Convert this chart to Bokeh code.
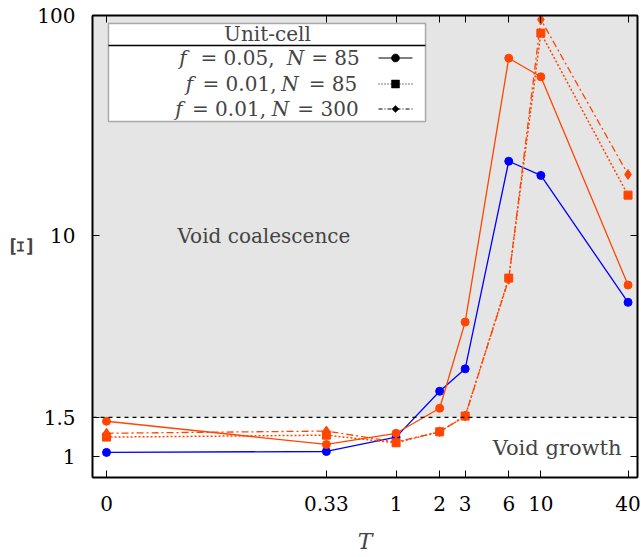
import math
from bokeh.plotting import figure
from bokeh.models import (FixedTicker, LogAxis, Span, BoxAnnotation, Label,
                          Arrow, PolyAnnotation, CustomJSTickFormatter)
from bokeh.embed import file_html
from bokeh.resources import INLINE

# ---------------- data ----------------
T_labels = ["0", "0.33", "1", "2", "3", "6", "10", "40"]
T_values = [0.0, 0.33, 1.0, 2.0, 3.0, 6.0, 10.0, 40.0]
T_zero_on_log_axis = 0.01  # position where T = 0 is drawn on the log axis

xi_blue_circle = [1.04, 1.05, 1.22, 1.97, 2.49, 21.8, 18.8, 4.99]
xi_orange_circle = [1.44, 1.13, 1.27, 1.65, 4.06, 64.0, 52.7, 5.98]
xi_orange_square = [1.22, 1.245, 1.15, 1.29, 1.52, 6.43, 83.2, 15.3]
xi_orange_diamond = [1.27, 1.30, 1.16, 1.29, 1.52, 6.35, 95.9, 19.0]

y_tick_values = [1.0, 1.5, 10.0, 100.0]
y_tick_labels = ["1", "1.5", "10", "100"]
xi_threshold = 1.5

x_title = "T"
y_title = "Ξ"

legend_title = "Unit-cell"
legend_rows = [
    ("f", "= 0.05,", "N", "= 85"),
    ("f", "= 0.01,", "N", "= 85"),
    ("f", "= 0.01,", "N", "= 300"),
]

# --------------- styling ---------------
FONT = "DejaVu Serif"
BLUE = "#0000ff"
ORANGE = "#ff4500"

xs = [T_zero_on_log_axis if t == 0 else t for t in T_values]

p = figure(width=641, height=557, x_axis_type="log", y_axis_type="log",
           x_range=(0.0080, 46.5), y_range=(0.8, 100),
           output_backend="svg", toolbar_location=None,
           min_border_left=92, min_border_right=4, min_border_top=15,
           min_border_bottom=80,
           background_fill_color="#e5e5e5", border_fill_color="white")
p.xgrid.visible = False
p.ygrid.visible = False
p.outline_line_color = "black"
p.outline_line_width = 1

map_code = """
for (let i = 0; i < pos.length; i++) {
  if (Math.abs(pos[i] - tick) <= 1e-9 * Math.max(1, Math.abs(tick))) return lab[i];
}
return "";
"""
x_fmt = CustomJSTickFormatter(args=dict(pos=xs, lab=T_labels), code=map_code)
y_fmt = CustomJSTickFormatter(args=dict(pos=y_tick_values, lab=y_tick_labels), code=map_code)


def style_axis(ax, show_labels=True):
    ax.axis_line_width = 2
    ax.axis_line_color = "black"
    ax.major_tick_in = 7
    ax.major_tick_out = 0
    ax.major_tick_line_width = 1
    ax.major_tick_line_color = "black"
    ax.minor_tick_line_color = None
    ax.major_label_text_font = FONT
    ax.major_label_text_color = "black"
    if show_labels:
        ax.major_label_text_font_size = "20px"
    else:
        ax.major_label_text_font_size = "0px"
        ax.major_label_standoff = 0


xa = p.xaxis[0]
xa.ticker = FixedTicker(ticks=xs)
xa.formatter = x_fmt
style_axis(xa)
xa.major_label_standoff = 18
xa.axis_label = x_title
xa.axis_label_text_font = FONT
xa.axis_label_text_font_style = "italic"
xa.axis_label_text_font_size = "22px"
xa.axis_label_standoff = 15

ya = p.yaxis[0]
ya.ticker = FixedTicker(ticks=y_tick_values)
ya.formatter = y_fmt
style_axis(ya)
ya.major_label_standoff = 17
ya.axis_label = y_title
ya.axis_label_text_font = FONT
ya.axis_label_text_font_style = "normal"
ya.axis_label_text_font_size = "28px"
ya.axis_label_standoff = -5

top = LogAxis(ticker=FixedTicker(ticks=xs), formatter=x_fmt)
style_axis(top, show_labels=False)
p.add_layout(top, "above")
right = LogAxis(ticker=FixedTicker(ticks=y_tick_values), formatter=y_fmt)
style_axis(right, show_labels=False)
p.add_layout(right, "right")

# background regions
p.add_layout(BoxAnnotation(top=xi_threshold, fill_color="white", fill_alpha=1.0,
                           line_alpha=0, level="underlay"))
p.add_layout(Span(location=xi_threshold, dimension="width", line_color="black",
                  line_dash="4 4", line_width=1.2))

# data series
p.line(xs, xi_blue_circle, line_color=BLUE, line_width=1.3)
p.scatter(xs, xi_blue_circle, marker="circle", size=8, color=BLUE)
p.line(xs, xi_orange_circle, line_color=ORANGE, line_width=1.3)
p.scatter(xs, xi_orange_circle, marker="circle", size=8, color=ORANGE)
p.line(xs, xi_orange_square, line_color=ORANGE, line_width=1.5, line_dash="2 2")
p.scatter(xs, xi_orange_square, marker="square", size=8, color=ORANGE)
p.line(xs, xi_orange_diamond, line_color=ORANGE, line_width=1.3, line_dash="7 3 2 3")
p.scatter(xs, xi_orange_diamond, marker="diamond", size=10, color=ORANGE)

# region labels
p.add_layout(Label(x=85, y=242, x_units="screen", y_units="screen",
                   text="Void coalescence", text_font=FONT, text_font_size="20px",
                   text_baseline="middle", text_align="left"))
p.add_layout(Label(x=529, y=30, x_units="screen", y_units="screen",
                   text="Void growth", text_font=FONT, text_font_size="21px",
                   text_baseline="middle", text_align="right"))

# ---------------- legend ----------------
p.add_layout(BoxAnnotation(left=16, right=333, top=454, bottom=356,
                           left_units="screen", right_units="screen",
                           top_units="screen", bottom_units="screen",
                           fill_color="white", fill_alpha=1.0,
                           line_color="black", line_width=1.5))
p.add_layout(Arrow(x_start=16, y_start=432, x_end=333, y_end=432,
                   start_units="screen", end_units="screen", end=None,
                   line_color="black", line_width=1.5))
p.add_layout(Label(x=175, y=443.5, x_units="screen", y_units="screen",
                   text=legend_title, text_font=FONT, text_font_size="20px",
                   text_align="center", text_baseline="middle"))

row_y = [419.5, 393.5, 368.5]
piece_cx = [
    (90.5, 145, 203, 243),
    (97, 147, 197.5, 240.5),
    (86.5, 136.5, 188, 235.5),
]
row_dash = ["solid", "1 2", "4 2 1 2"]
for (txts, px, ry, dash) in zip(legend_rows, piece_cx, row_y, row_dash):
    for k, (t, x0) in enumerate(zip(txts, px)):
        p.add_layout(Label(x=x0, y=ry, x_units="screen", y_units="screen",
                           text=t, text_font=FONT, text_font_size="20px",
                           text_font_style="italic" if k in (0, 2) else "normal",
                           text_baseline="middle", text_align="center"))
    p.add_layout(Arrow(x_start=286, y_start=ry, x_end=320, y_end=ry,
                       start_units="screen", end_units="screen", end=None,
                       line_color="black", line_width=1, line_dash=dash))

mx = 303
r = 4
circ_xs = [mx + r * math.cos(2 * math.pi * i / 20) for i in range(20)]
circ_ys = [row_y[0] + r * math.sin(2 * math.pi * i / 20) for i in range(20)]
marker_polys = [
    (circ_xs, circ_ys),
    ([mx - 4, mx + 4, mx + 4, mx - 4], [row_y[1] - 4, row_y[1] - 4, row_y[1] + 4, row_y[1] + 4]),
    ([mx, mx + 3.5, mx, mx - 3.5], [row_y[2] + 3.5, row_y[2], row_y[2] - 3.5, row_y[2]]),
]
for mxs, mys in marker_polys:
    p.add_layout(PolyAnnotation(xs=mxs, ys=mys, xs_units="screen", ys_units="screen",
                                fill_color="black", fill_alpha=1.0,
                                line_color="black", line_alpha=1.0, line_width=0.5))

open("out.html", "w").write(file_html(p, INLINE))
